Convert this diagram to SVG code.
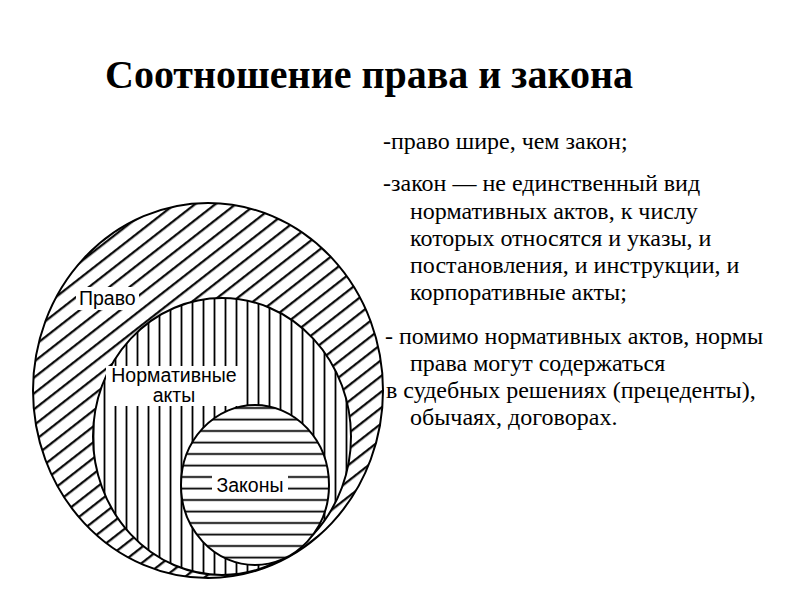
<svg xmlns="http://www.w3.org/2000/svg" width="794" height="595" viewBox="0 0 794 595">
<style>
.title{font-family:"Liberation Serif","Times New Roman",serif;font-weight:bold;font-size:40px;fill:#000}
.body{font-family:"Liberation Serif","Times New Roman",serif;font-size:24px;fill:#000}
.lbl{font-family:"Liberation Sans",Arial,sans-serif;font-size:19.5px;fill:#000}
.ring{stroke:#000;stroke-width:2}
.bg{fill:#fff}
</style>
<defs>
<pattern id="diag" patternUnits="userSpaceOnUse" width="12.5" height="12.5" patternTransform="rotate(52)">
<line x1="6" y1="-1" x2="6" y2="13.5" stroke="#000" stroke-width="2.2"/>
</pattern>
<pattern id="vert" patternUnits="userSpaceOnUse" width="11" height="11">
<line x1="5.5" y1="-1" x2="5.5" y2="12" stroke="#000" stroke-width="1.8"/>
</pattern>
<pattern id="horz" patternUnits="userSpaceOnUse" width="11.5" height="11.5">
<line x1="-1" y1="5.5" x2="12.5" y2="5.5" stroke="#000" stroke-width="1.8"/>
</pattern>
</defs>
<rect width="794" height="595" fill="#fff"/>
<text class="title" x="105" y="88">Соотношение права и закона</text>
<g id="node-pravo">
<ellipse cx="208" cy="390.5" rx="175" ry="187.5" fill="#fff"/>
<ellipse class="ring" cx="208" cy="390.5" rx="175" ry="187.5" fill="url(#diag)"/>
<rect class="bg" x="76" y="287" width="63" height="23"/>
<text class="lbl" x="79" y="305">Право</text>
</g>
<g id="node-normativnye">
<ellipse cx="222" cy="436.5" rx="129" ry="138.5" fill="#fff"/>
<ellipse class="ring" cx="222" cy="436.5" rx="129" ry="138.5" fill="url(#vert)"/>
<rect class="bg" x="106" y="366" width="135" height="40"/>
<text class="lbl" x="174" y="382" text-anchor="middle">Нормативные</text>
<text class="lbl" x="174" y="402" text-anchor="middle">акты</text>
</g>
<g id="node-zakony">
<ellipse cx="255" cy="485" rx="74" ry="80" fill="#fff"/>
<ellipse class="ring" cx="255" cy="485" rx="74" ry="80" fill="url(#horz)"/>
<rect class="bg" x="212" y="475" width="76" height="22"/>
<text class="lbl" x="250" y="492" text-anchor="middle">Законы</text>
</g>
<g id="connectors"/>
<g id="notes">
<text class="body" x="383" y="149">-право шире, чем закон;</text>
<text class="body" x="383" y="191">-закон — не единственный вид</text>
<text class="body" x="410" y="219">нормативных актов, к числу</text>
<text class="body" x="410" y="246">которых относятся и указы, и</text>
<text class="body" x="410" y="273">постановления, и инструкции, и</text>
<text class="body" x="410" y="300">корпоративные акты;</text>
<text class="body" x="385" y="344">- помимо нормативных актов, нормы</text>
<text class="body" x="410" y="371">права могут содержаться</text>
<text class="body" x="386" y="398">в судебных решениях (прецеденты),</text>
<text class="body" x="410" y="425">обычаях, договорах.</text>
</g>
</svg>
